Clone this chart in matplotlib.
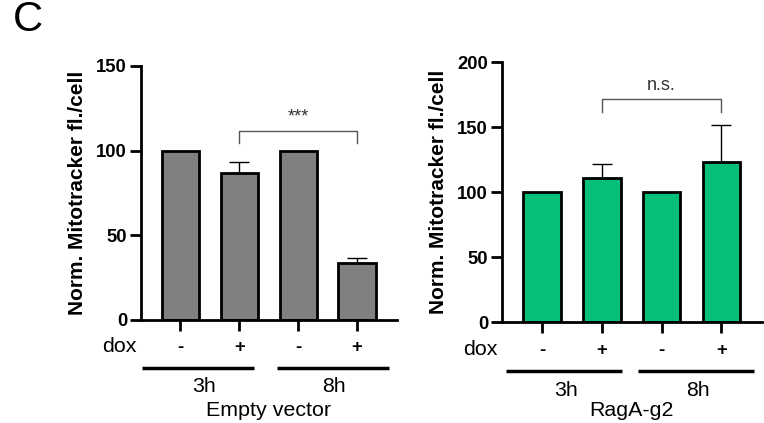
import matplotlib
matplotlib.use("Agg")
import matplotlib.pyplot as plt
from matplotlib.transforms import blended_transform_factory

plt.rcParams['font.family'] = ['Liberation Sans', 'DejaVu Sans']

dox_labels = ['-', '+', '-', '+']
time_labels = ['3h', '8h']

ev_values = [100, 86.8, 100, 33.8]
ev_err = [0, 6.5, 0, 3.0]
rag_values = [100, 111.2, 100, 123.0]
rag_err = [0, 10.3, 0, 28.8]

W, H = 764, 423
fig = plt.figure(figsize=(W / 100, H / 100), dpi=100)


def px_axes(x0, x1, ytop, ybot):
    return fig.add_axes([x0 / W, 1 - ybot / H, (x1 - x0) / W, (ybot - ytop) / H])


def panel(ax, values, errs, color, ymax, yticks, bracket, sig, group_label,
          lines, dox_x, ybot, hpx, ypos):
    x = list(range(len(values)))
    ax.bar(x, values, width=0.63, color=color, edgecolor='black',
           linewidth=2.0, zorder=2)
    for xi, v, e in zip(x, values, errs):
        if e > 0:
            ax.errorbar([xi], [v], yerr=[[0], [e]], fmt='none', ecolor='black',
                        elinewidth=1.0, capsize=7, capthick=1.0, zorder=1)
    ax.set_xlim(-0.67, 3.68)
    ax.set_ylim(0, ymax)
    ax.set_yticks(yticks)
    ax.set_yticklabels([str(t) for t in yticks], fontsize=13.3, fontweight='bold')
    ax.set_xticks(x)
    ax.set_xticklabels(dox_labels, fontsize=13.3, fontweight='bold')
    ax.tick_params(axis='y', length=8, width=2, pad=2)
    ax.tick_params(axis='x', length=8, width=2, pad=6)
    for s in ['top', 'right']:
        ax.spines[s].set_visible(False)
    for s in ['left', 'bottom']:
        ax.spines[s].set_linewidth(2)
    ax.set_ylabel('Norm. Mitotracker fl./cell', fontsize=15, fontweight='bold',
                  labelpad=7)
    # bracket
    bx0, bx1, by, bleg = bracket
    ax.plot([bx0, bx0, bx1, bx1], [bleg, by, by, bleg], color='#555555',
            lw=1.0, clip_on=False)
    ax.text((bx0 + bx1) / 2, by + ymax * 0.02, sig, ha='center', va='bottom',
            fontsize=13, color='#333333')
    tr = blended_transform_factory(ax.transData, ax.transAxes)

    def fy(p):
        return -(p - ybot) / hpx

    y_dox, y_line, y_time, y_group = ypos
    ax.text(dox_x, fy(y_dox), 'dox', transform=tr, ha='right', va='center',
            fontsize=15.4)
    for (l0, l1) in lines:
        ax.plot([l0, l1], [fy(y_line)] * 2, color='black', lw=2.5,
                transform=tr, clip_on=False, solid_capstyle='butt')
    ax.text(0.4, fy(y_time), time_labels[0], transform=tr, ha='center',
            va='center', fontsize=15.4)
    ax.text(2.6, fy(y_time), time_labels[1], transform=tr, ha='center',
            va='center', fontsize=15.4)
    ax.text(1.5, fy(y_group), group_label, transform=tr, ha='center',
            va='center', fontsize=15.4)


ax1 = px_axes(141, 397, 66, 320)
panel(ax1, ev_values, ev_err, '#808080', 150, [0, 50, 100, 150],
      (1, 3, 111.6, 104.7), '***', 'Empty vector',
      [(-0.66, 1.25), (1.64, 3.55)], -0.75, 320, 254, (347, 368, 387, 410))

ax2 = px_axes(502, 762, 62.3, 322.3)
panel(ax2, rag_values, rag_err, '#06BF78', 200, [0, 50, 100, 150, 200],
      (1, 3, 172, 162), 'n.s.', 'RagA-g2',
      [(-0.6, 1.33), (1.6, 3.55)], -0.75, 322.3, 260, (349, 370.7, 390, 410))

fig.text(13 / W, 1 - 20 / H, 'C', fontsize=30, ha='left', va='center')

fig.savefig('out.png', dpi=100)
